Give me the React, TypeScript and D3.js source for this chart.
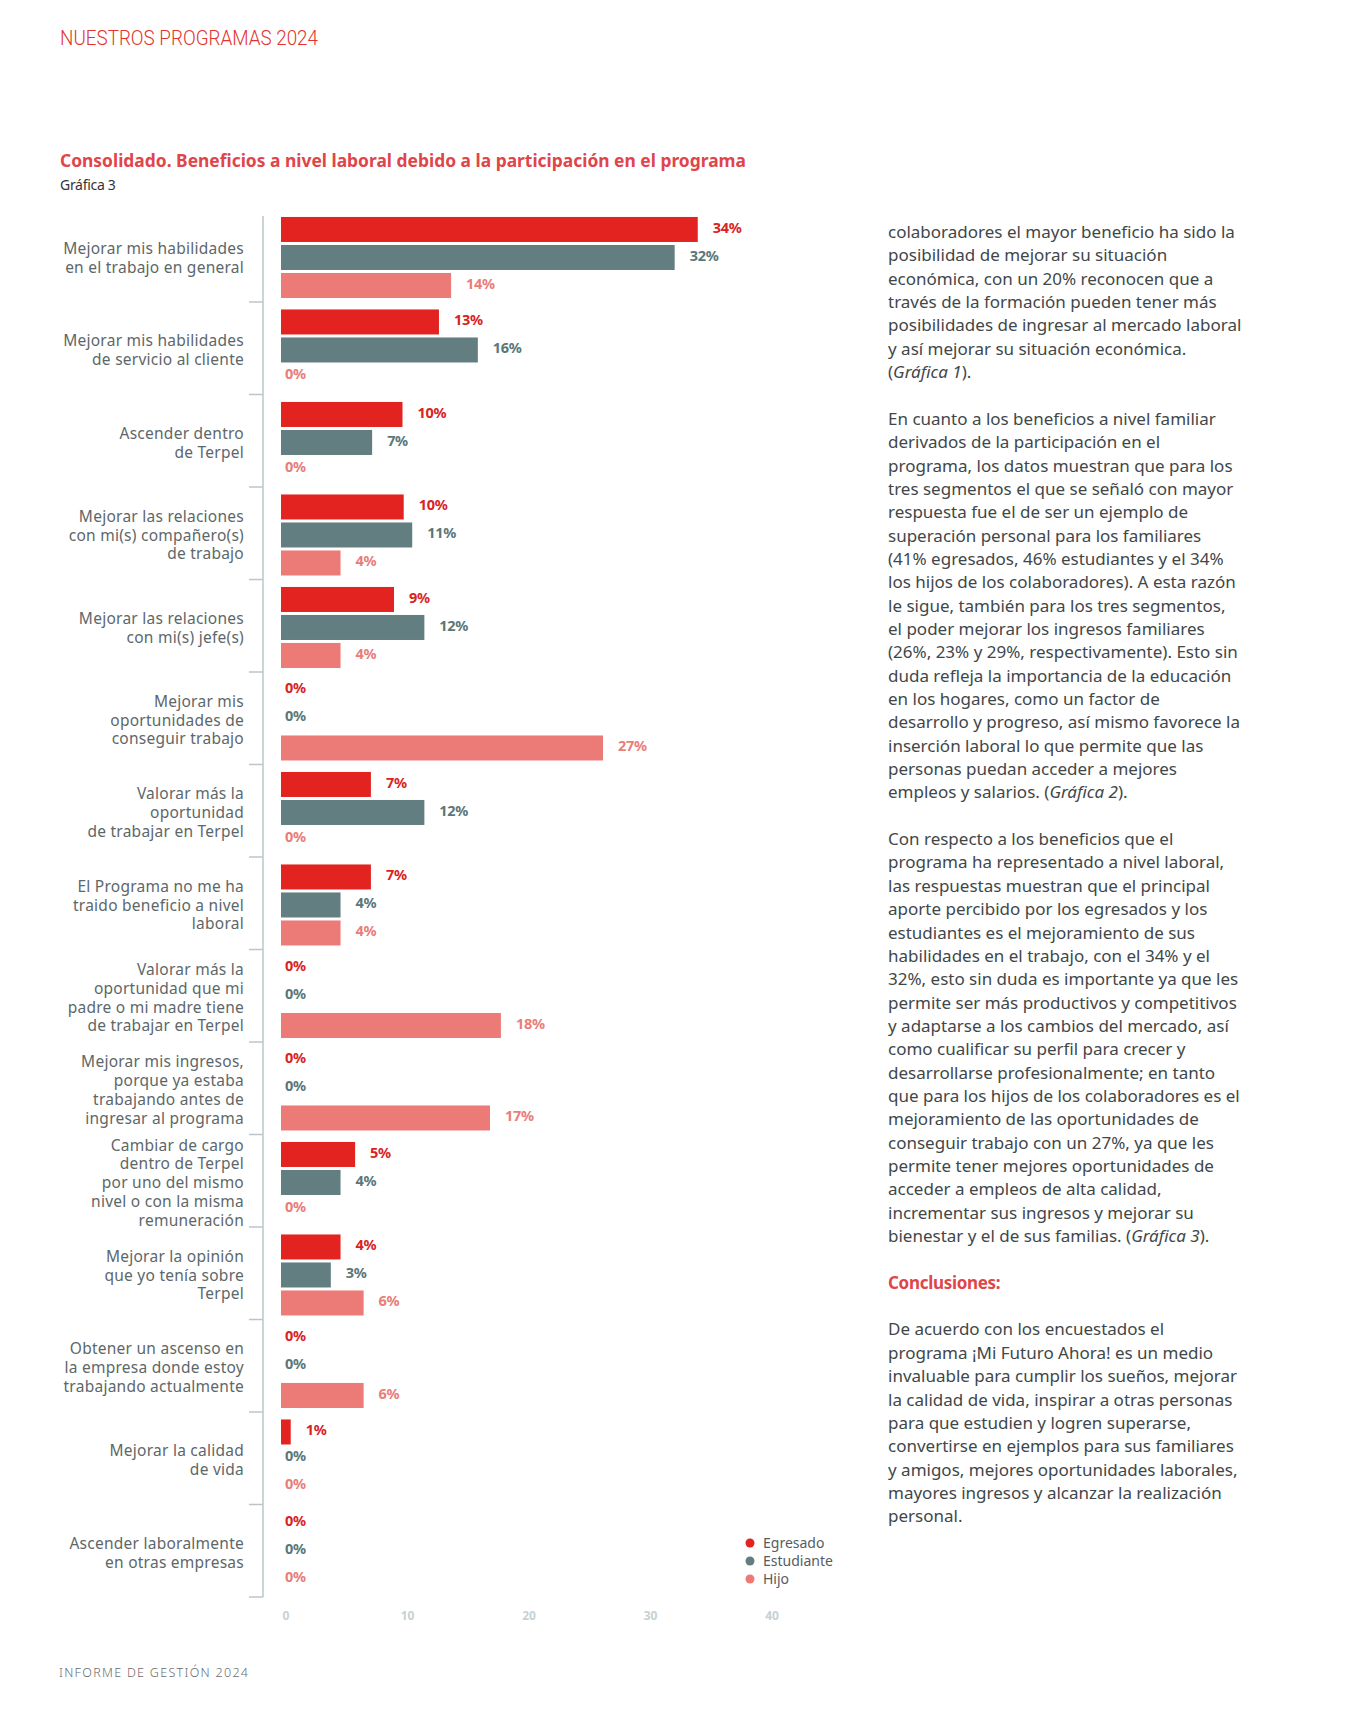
import React from "react";
import * as d3 from "d3";

const CATEGORIES: string[][] = [
  ["Mejorar mis habilidades", "en el trabajo en general"],
  ["Mejorar mis habilidades", "de servicio al cliente"],
  ["Ascender dentro", "de Terpel"],
  ["Mejorar las relaciones", "con mi(s) compañero(s)", "de trabajo"],
  ["Mejorar las relaciones", "con mi(s) jefe(s)"],
  ["Mejorar mis", "oportunidades de", "conseguir trabajo"],
  ["Valorar más la", "oportunidad", "de trabajar en Terpel"],
  ["El Programa no me ha", "traido beneficio a nivel", "laboral"],
  ["Valorar más la", "oportunidad que mi", "padre o mi madre tiene", "de trabajar en Terpel"],
  ["Mejorar mis ingresos,", "porque ya estaba", "trabajando antes de", "ingresar al programa"],
  ["Cambiar de cargo", "dentro de Terpel", "por uno del mismo", "nivel o con la misma", "remuneración"],
  ["Mejorar la opinión", "que yo tenía sobre", "Terpel"],
  ["Obtener un ascenso en", "la empresa donde estoy", "trabajando actualmente"],
  ["Mejorar la calidad", "de vida"],
  ["Ascender laboralmente", "en otras empresas"],
];

// bar lengths as drawn in the picture
const EGRESADO = [34.3, 13.0, 10.0, 10.1, 9.3, 0, 7.4, 7.4, 0, 0, 6.1, 4.9, 0, 0.8, 0];
const ESTUDIANTE = [32.4, 16.2, 7.5, 10.8, 11.8, 0, 11.8, 4.9, 0, 0, 4.9, 4.1, 0, 0, 0];
const HIJO = [14.0, 0, 0, 4.9, 4.9, 26.5, 0, 4.9, 18.1, 17.2, 0, 6.8, 6.8, 0, 0];

// printed percentage labels
const EGRESADO_PCT = [34, 13, 10, 10, 9, 0, 7, 7, 0, 0, 5, 4, 0, 1, 0];
const ESTUDIANTE_PCT = [32, 16, 7, 11, 12, 0, 12, 4, 0, 0, 4, 3, 0, 0, 0];
const HIJO_PCT = [14, 0, 0, 4, 4, 27, 0, 4, 18, 17, 0, 6, 6, 0, 0];

const SERIES = ["Egresado", "Estudiante", "Hijo"];
const COLORS = ["#e2231f", "#627e80", "#ec7a76"];
const LABEL_COLORS = ["#d9231f", "#5a7779", "#e97d79"];
const X_TICKS = [0, 10, 20, 30, 40];

// right-hand column, one entry per line; "" = blank line, *...* = italic
const BODY_LINES = [
  "colaboradores el mayor beneficio ha sido la",
  "posibilidad de mejorar su situación",
  "económica, con un 20% reconocen que a",
  "través de la formación pueden tener más",
  "posibilidades de ingresar al mercado laboral",
  "y así mejorar su situación económica.",
  "(*Gráfica 1*).",
  "",
  "En cuanto a los beneficios a nivel familiar",
  "derivados de la participación en el",
  "programa, los datos muestran que para los",
  "tres segmentos el que se señaló con mayor",
  "respuesta fue el de ser un ejemplo de",
  "superación personal para los familiares",
  "(41% egresados, 46% estudiantes y el 34%",
  "los hijos de los colaboradores). A esta razón",
  "le sigue, también para los tres segmentos,",
  "el poder mejorar los ingresos familiares",
  "(26%, 23% y 29%, respectivamente). Esto sin",
  "duda refleja la importancia de la educación",
  "en los hogares, como un factor de",
  "desarrollo y progreso, así mismo favorece la",
  "inserción laboral lo que permite que las",
  "personas puedan acceder a mejores",
  "empleos y salarios. (*Gráfica 2*).",
  "",
  "Con respecto a los beneficios que el",
  "programa ha representado a nivel laboral,",
  "las respuestas muestran que el principal",
  "aporte percibido por los egresados y los",
  "estudiantes es el mejoramiento de sus",
  "habilidades en el trabajo, con el 34% y el",
  "32%, esto sin duda es importante ya que les",
  "permite ser más productivos y competitivos",
  "y adaptarse a los cambios del mercado, así",
  "como cualificar su perfil para crecer y",
  "desarrollarse profesionalmente; en tanto",
  "que para los hijos de los colaboradores es el",
  "mejoramiento de las oportunidades de",
  "conseguir trabajo con un 27%, ya que les",
  "permite tener mejores oportunidades de",
  "acceder a empleos de alta calidad,",
  "incrementar sus ingresos y mejorar su",
  "bienestar y el de sus familias. (*Gráfica 3*).",
  "",
  "#Conclusiones:",
  "",
  "De acuerdo con los encuestados el",
  "programa ¡Mi Futuro Ahora! es un medio",
  "invaluable para cumplir los sueños, mejorar",
  "la calidad de vida, inspirar a otras personas",
  "para que estudien y logren superarse,",
  "convertirse en ejemplos para sus familiares",
  "y amigos, mejores oportunidades laborales,",
  "mayores ingresos y alcanzar la realización",
  "personal.",
];

const FONT = "'Noto Sans', 'Open Sans', sans-serif";

export default function App() {
  const width = 1359;
  const height = 1713;
  const values = [EGRESADO, ESTUDIANTE, HIJO];
  const pcts = [EGRESADO_PCT, ESTUDIANTE_PCT, HIJO_PCT];
  const idx = CATEGORIES.map((_, i) => i);

  const y = d3.scaleBand<number>().domain(idx).range([209.5, 1597]).padding(0);
  const ys = d3
    .scaleBand<number>()
    .domain([0, 1, 2])
    .range([0, y.bandwidth()])
    .paddingInner(0.107)
    .paddingOuter(0.205)
    .align(0.65);
  const x = d3.scaleLinear().domain([0, 40]).range([281, 767]);

  const axisX = 263;
  const lineH = 18.8;
  const textY = (n: number) => 238 + 23.35 * n;

  return (
    <svg
      width={width}
      height={height}
      style={{ position: "absolute", left: 0, top: 0, background: "#fff" }}
      fontFamily={FONT}
    >
      <text x={60} y={45} fill="#e2332d" fontSize={19.5} fontWeight={300} textLength={258} lengthAdjust="spacingAndGlyphs" fontFamily="Roboto, sans-serif">
        NUESTROS PROGRAMAS 2024
      </text>
      <text x={60} y={167} fill="#e0454a" fontSize={18} fontWeight={700} textLength={686} lengthAdjust="spacingAndGlyphs">
        Consolidado. Beneficios a nivel laboral debido a la participación en el programa
      </text>
      <text x={60} y={190} fill="#333" fontSize={14} letterSpacing={-0.3}>
        Gráfica 3
      </text>

      {/* axis line and group separators */}
      <line x1={axisX} x2={axisX} y1={216} y2={1597} stroke="#bac6ca" strokeWidth={1.5} />
      {idx.map((i) =>
        i === 0 ? null : (
          <line key={`sep${i}`} x1={249} x2={axisX} y1={y(i)!} y2={y(i)!} stroke="#bac6ca" strokeWidth={1.5} />
        )
      )}
      <line x1={249} x2={axisX} y1={1597} y2={1597} stroke="#bac6ca" strokeWidth={1.5} />

      {/* category labels */}
      {CATEGORIES.map((lines, i) => {
        const cy = y(i)! + y.bandwidth() / 2 + 2;
        const y0 = cy - ((lines.length - 1) * lineH) / 2;
        return (
          <text key={`cat${i}`} textAnchor="end" fill="#5d6769" fontSize={15.5} letterSpacing={0.25}>
            {lines.map((l, j) => (
              <tspan key={j} x={244} y={y0 + j * lineH} dy="0.35em">
                {l}
              </tspan>
            ))}
          </text>
        );
      })}

      {/* bars and value labels */}
      {idx.map((i) =>
        values.map((arr, s) => {
          const v = arr[i];
          const by = y(i)! + ys(s)!;
          const cy = by + ys.bandwidth() / 2;
          return (
            <g key={`b${i}-${s}`}>
              {v > 0 && (
                <rect x={x(0)} y={by} width={x(v) - x(0)} height={ys.bandwidth()} fill={COLORS[s]} />
              )}
              <text
                x={v > 0 ? x(v) + 15 : x(0) + 4}
                y={cy - (v > 0 ? 2 : 4)}
                dy="0.35em"
                fill={LABEL_COLORS[s]}
                fontSize={14.5}
                fontWeight={700}
                letterSpacing={-0.3}
              >
                {`${pcts[s][i]}%`}
              </text>
            </g>
          );
        })
      )}

      {/* x tick labels */}
      {X_TICKS.map((t) => (
        <text key={`t${t}`} x={x(t) + 5} y={1616} dy="0.35em" textAnchor="middle" fill="#c6d1d4" fontSize={12} fontWeight={700}>
          {t}
        </text>
      ))}

      {/* legend */}
      {SERIES.map((name, s) => (
        <g key={`lg${s}`} transform={`translate(750, ${1543 + s * 18})`}>
          <circle r={4.5} fill={COLORS[s]} />
          <text x={13} dy="0.35em" fill="#555d5f" fontSize={14}>
            {name}
          </text>
        </g>
      ))}

      {/* right text column */}
      {BODY_LINES.map((line, n) => {
        if (!line) return null;
        if (line.startsWith("#")) {
          return (
            <text key={`l${n}`} x={888} y={textY(n)} fill="#e0454a" fontSize={17} fontWeight={700} letterSpacing={-0.3}>
              {line.slice(1)}
            </text>
          );
        }
        const parts = line.split("*");
        return (
          <text key={`l${n}`} x={888} y={textY(n)} fill="#3f4749" fontSize={17} letterSpacing={0}>
            {parts.map((p, k) => (
              <tspan key={k} fontStyle={k % 2 === 1 ? "italic" : "normal"}>
                {p}
              </tspan>
            ))}
          </text>
        );
      })}

      <text x={59} y={1677} fill="#6b6b6b" fontSize={12.5} letterSpacing={1.3} fontWeight={300}>
        INFORME DE GESTIÓN 2024
      </text>
    </svg>
  );
}
